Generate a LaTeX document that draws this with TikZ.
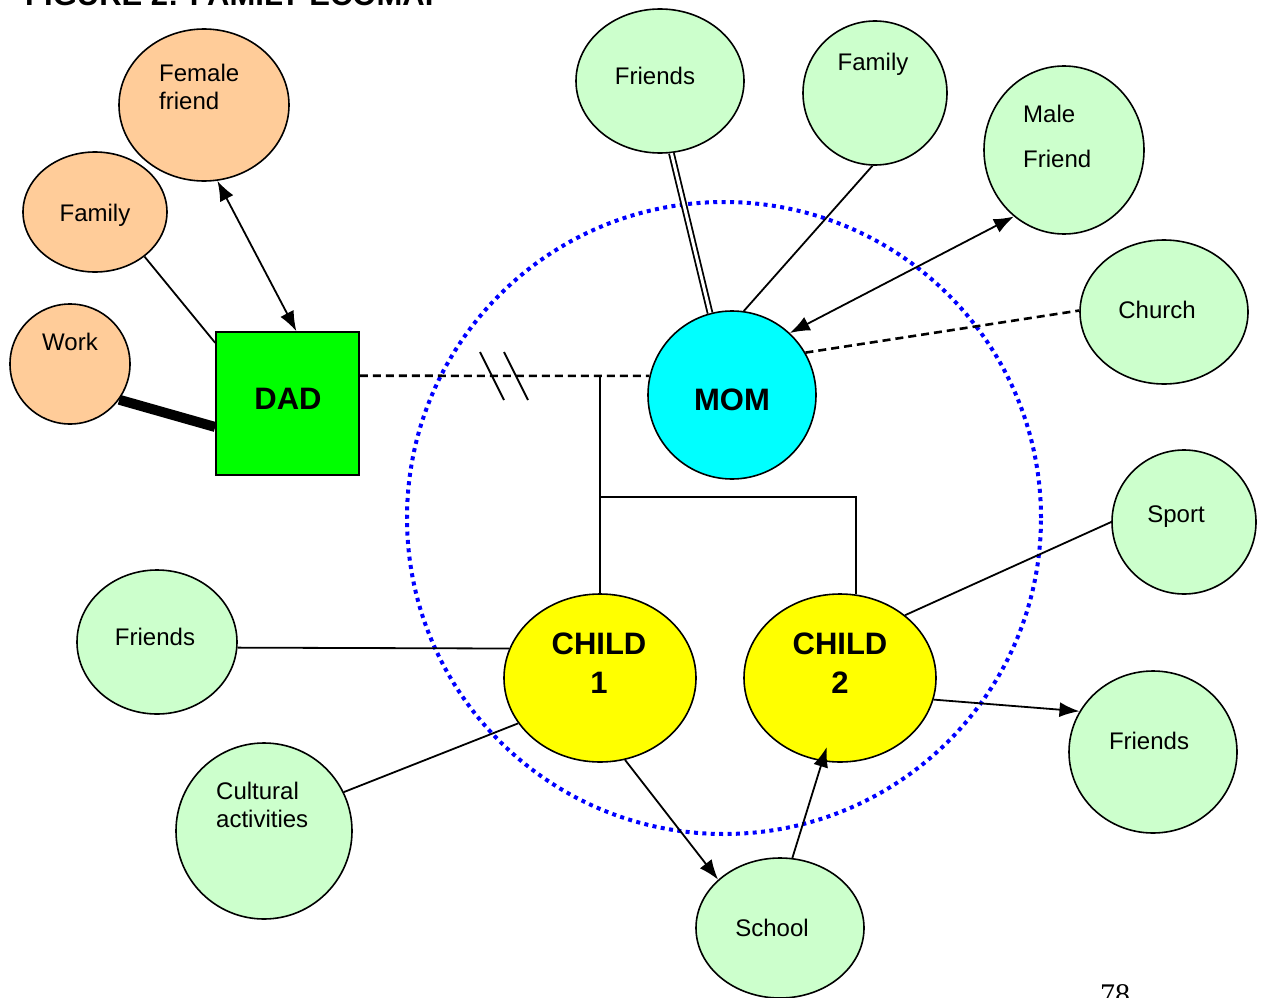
\documentclass[tikz,border=0pt]{standalone}
\usepackage{fontspec}
\setmainfont{Liberation Sans}
\newfontfamily\pagenumfont{Liberation Serif}
\usetikzlibrary{arrows.meta, shapes.geometric, positioning}
\definecolor{EcoOrange}{RGB}{255,204,153}
\definecolor{EcoGreen}{RGB}{204,255,204}
\definecolor{EcoLime}{RGB}{0,255,0}
\definecolor{EcoCyan}{RGB}{0,255,255}
\definecolor{EcoYellow}{RGB}{255,255,0}
\definecolor{EcoBlue}{RGB}{0,0,255}

\begin{document}
\begin{tikzpicture}[x = 1pt, y = -1pt]%
    %
    \tikzstyle{ring} = [ellipse, draw = black, line width = 1.6pt, inner sep = 0pt]%
    \tikzstyle{word} = [inner sep = 0pt, align = left, font = \fontsize{24}{28}\selectfont]%
    \tikzstyle{boldword} = [inner sep = 0pt, align = center, font = \fontsize{31}{39}\selectfont\bfseries]%
    \tikzstyle{link} = [draw = black, line width = 1.8pt]%
    \tikzstyle{arrow} = [link, -{Latex[length = 20pt, width = 15pt]}]%
    \tikzstyle{twoway} = [link, {Latex[length = 20pt, width = 15pt]}-{Latex[length = 20pt, width = 15pt]}]%
    \tikzstyle{dashedline} = [link, line width = 2.6pt, dash pattern = on 8pt off 5pt]%
    \tikzstyle{household} = [draw = EcoBlue, line width = 4pt, dash pattern = on 4pt off 4.4pt]%
    %
    \useasboundingbox (0, 0) rectangle (1266, 998);%
    \clip (0, 0) rectangle (1266, 998);%
    %
    \node [anchor = base west, inner sep = 0pt, font = \fontsize{31}{37}\selectfont\bfseries] (title) at (25, 6) {FIGURE 2: FAMILY ECOMAP};%
    \node [anchor = base west, inner sep = 0pt, font = \pagenumfont\fontsize{30}{36}\selectfont] (pagenum) at (1100, 1004) {78};%
    %
    % household boundary
    \coordinate (home) at (724, 518);%
    \draw [household] (home) ellipse [x radius = 317pt, y radius = 316pt];%
    %
    % dad's side
    \node [ring, fill = EcoOrange, minimum width = 170pt, minimum height = 152pt] (femalefriend) at (204, 105) {};%
    \node [word, anchor = west] (femalefriendtext) at (159, 87) {Female\\friend};%
    \node [ring, fill = EcoOrange, minimum width = 144pt, minimum height = 120pt] (dadfamily) at (95, 212) {};%
    \node [word] (dadfamilytext) at (95, 215) {Family};%
    \node [ring, fill = EcoOrange, minimum width = 120pt, minimum height = 120pt] (work) at (70, 364) {};%
    \node [word] (worktext) at (70, 342) {Work};%
    \node [draw = black, line width = 1.6pt, fill = EcoLime, minimum size = 143pt, inner sep = 0pt] (dad) at (287.5, 403.5) {};%
    \node [boldword] (dadtext) at (288, 399) {DAD};%
    %
    % mom's side
    \node [ring, fill = EcoCyan, minimum size = 168pt] (mom) at (732, 395) {};%
    \node [boldword] (momtext) at (732, 400) {MOM};%
    \node [ring, fill = EcoGreen, minimum width = 168pt, minimum height = 144pt] (friendstop) at (660, 81) {};%
    \node [word] (friendstoptext) at (655, 76) {Friends};%
    \node [ring, fill = EcoGreen, minimum size = 144pt] (momfamily) at (875, 93) {};%
    \node [word] (momfamilytext) at (873, 64) {Family};%
    \node [ring, fill = EcoGreen, minimum width = 160pt, minimum height = 168pt] (malefriend) at (1064, 150) {};%
    \node [word, anchor = west, font = \fontsize{24}{45}\selectfont] (malefriendtext) at (1023, 136) {Male\\Friend};%
    \node [ring, fill = EcoGreen, minimum width = 168pt, minimum height = 144pt] (church) at (1164, 312) {};%
    \node [word] (churchtext) at (1157, 310) {Church};%
    %
    % children
    \node [ring, fill = EcoYellow, minimum width = 192pt, minimum height = 168pt] (child1) at (600, 678) {};%
    \node [boldword] (child1text) at (599, 663) {CHILD\\1};%
    \node [ring, fill = EcoYellow, minimum width = 192pt, minimum height = 168pt] (child2) at (840, 678) {};%
    \node [boldword] (child2text) at (840, 663) {CHILD\\2};%
    \node [ring, fill = EcoGreen, minimum width = 160pt, minimum height = 144pt] (friendsleft) at (157, 642) {};%
    \node [word] (friendslefttext) at (155, 637) {Friends};%
    \node [ring, fill = EcoGreen, minimum size = 176pt] (cultural) at (264, 831) {};%
    \node [word, anchor = west] (culturaltext) at (216, 805) {Cultural\\activities};%
    \node [ring, fill = EcoGreen, minimum width = 168pt, minimum height = 140pt] (school) at (780, 928) {};%
    \node [word] (schooltext) at (772, 928) {School};%
    \node [ring, fill = EcoGreen, minimum size = 144pt] (sport) at (1184, 522) {};%
    \node [word] (sporttext) at (1176, 517) {Sport};%
    \node [ring, fill = EcoGreen, minimum width = 168pt, minimum height = 162pt] (friendsright) at (1153, 752) {};%
    \node [word] (friendsrighttext) at (1149, 741) {Friends};%
    %
    % couple and family lines
    \draw [dashedline] (dad.21) -- (mom.167);%
    \coordinate (break) at (504, 376);%
    \draw [link, shift = {(break)}] (-24, -24) -- (0, 24) (0, -24) -- (24, 24);%
    \coordinate (marriage) at (600, 376);%
    \coordinate (sibling) at (600, 497);%
    \draw [link] (marriage) -- (child1.north);%
    \draw [link] (sibling) -| (child2.79);%
    %
    % dad's connections
    \draw [twoway] (femalefriend.-80) -- (dad.83);%
    \draw [link] (dadfamily.-42) -- (dad.140);%
    \draw [link, line width = 10pt] (work.-36) -- (dad.198);%
    %
    % mom's connections
    \draw [link, double, double distance = 3pt] (friendstop.-81) -- (mom.105);%
    \draw [link] (momfamily.-92) -- (mom.82);%
    \draw [twoway] (mom.47) -- (malefriend.233);%
    \draw [dashedline] (mom.30) -- (church.179);%
    %
    % children's connections
    \draw [link] (child1.162) -- (friendsleft.-4);%
    \draw [link] (child1.209) -- (cultural.26);%
    \draw [arrow] (child1.-73) -- (school.142);%
    \draw [arrow, shorten > = -15pt] (school.80) -- (child2.258);%
    \draw [link] (child2.44) -- (sport.180);%
    \draw [arrow] (child2.-13) -- (friendsright.151);%
\end{tikzpicture}
\end{document}
